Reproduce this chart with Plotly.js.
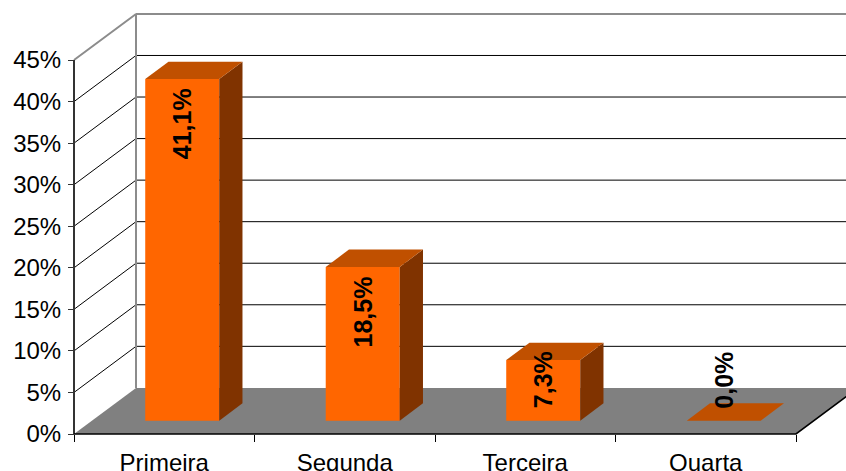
<!DOCTYPE html>
<html>
<head>
<meta charset="utf-8">
<script src="https://cdn.plot.ly/plotly-3.0.1.min.js"></script>
<style>html,body{margin:0;padding:0;background:#fff;}#chart{width:846px;height:471px;}</style>
</head>
<body>
<div id="chart"></div>
<script>
// ---- data ----
const categories = ['Primeira', 'Segunda', 'Terceira', 'Quarta'];
const values = [41.1, 18.5, 7.3, 0.0];
const yTickVals = [0, 5, 10, 15, 20, 25, 30, 35, 40, 45];
const yTickText = ['0%', '5%', '10%', '15%', '20%', '25%', '30%', '35%', '40%', '45%'];

// ---- 3D geometry (oblique projection in axis units) ----
const pxX = 180.5, pxY = 8.31;          // px per category unit / per percent
const Du = 62 / pxX, Dv = 5.55;          // full depth offset of the walls
const f0 = 0.29, f1 = 0.665;             // bar depth (front/back as fraction of floor depth)
const bw = 0.41;                         // bar width in category units
const yMax = yTickVals[yTickVals.length - 1];
const nCat = categories.length;

const FONT = 'Liberation Sans, Arial, sans-serif';
const traces = [];
const noHover = {hoverinfo: 'skip', showlegend: false};

// floor
traces.push(Object.assign({
  type: 'scatter', mode: 'lines', fill: 'toself', fillcolor: '#808080',
  x: [0, nCat, nCat + Du, Du, 0], y: [0, 0, Dv, Dv, 0],
  line: {width: 0}
}, noHover));

// side-wall and back-wall gridlines
const gx = [], gy = [];
yTickVals.forEach(v => {
  if (v === 0 || v === yMax) return;
  gx.push(0, Du, nCat + Du, null);
  gy.push(v, v + Dv, v + Dv, null);
});
traces.push(Object.assign({
  type: 'scatter', mode: 'lines', x: gx, y: gy,
  line: {color: '#000', width: 1}
}, noHover));

// wall border (grey)
traces.push(Object.assign({
  type: 'scatter', mode: 'lines',
  x: [Du, Du, 0, null, Du, nCat + Du], y: [Dv, yMax + Dv, yMax, null, yMax + Dv, yMax + Dv],
  line: {color: '#8c8c8c', width: 2}
}, noHover));

// front vertical axis line
traces.push(Object.assign({
  type: 'scatter', mode: 'lines', x: [0, 0], y: [0, yMax],
  line: {color: '#333', width: 2}
}, noHover));

// front horizontal axis line + floor right edge
traces.push(Object.assign({
  type: 'scatter', mode: 'lines', x: [0, nCat, nCat + Du], y: [0, 0, Dv],
  line: {color: '#000', width: 1.6}
}, noHover));

// bars: front, top and side faces
const centers = categories.map((c, i) => i + 0.5);
const dx = (f1 - f0) * Du, dy = (f1 - f0) * Dv;
values.forEach((v, i) => {
  const xl = centers[i] - bw / 2 + f0 * Du, xr = centers[i] + bw / 2 + f0 * Du;
  const yb = f0 * Dv, yt = v + f0 * Dv;
  if (v > 0) {
    traces.push(Object.assign({
      type: 'scatter', mode: 'lines', fill: 'toself', fillcolor: '#FF6600',
      x: [xl, xr, xr, xl, xl], y: [yb, yb, yt, yt, yb],
      line: {width: 0}
    }, noHover));
    traces.push(Object.assign({
      type: 'scatter', mode: 'lines', fill: 'toself', fillcolor: '#803300',
      x: [xr, xr, xr + dx, xr + dx, xr], y: [yb, yt, yt + dy, yb + dy, yb],
      line: {width: 0}
    }, noHover));
  }
  traces.push(Object.assign({
    type: 'scatter', mode: 'lines', fill: 'toself', fillcolor: '#C05000',
    x: [xl, xr, xr + dx, xl + dx, xl], y: [yt, yt, yt + dy, yt + dy, yt],
    line: {width: 0}
  }, noHover));
});

// data labels
const annotations = values.map((v, i) => ({
  x: centers[i] + f0 * Du,
  y: Math.max(v - 5.4, 4.9) + f0 * Dv,
  text: '<b>' + v.toFixed(1).replace('.', ',') + '%</b>',
  textangle: -90, showarrow: false,
  font: {family: FONT, size: 25, color: '#000'}
}));

const W = 846, H = 471, L = 64, B = 27;
const plotW = W - L, plotH = H - B;
const layout = {
  width: W, height: H,
  margin: {l: L, r: 0, t: 0, b: B, pad: 0},
  paper_bgcolor: '#fff', plot_bgcolor: 'rgba(0,0,0,0)',
  showlegend: false,
  font: {family: FONT, size: 24, color: '#000'},
  xaxis: {
    range: [-10 / pxX, (plotW - 10) / pxX],
    anchor: 'free', position: 10 / plotH,
    tickmode: 'array', tickvals: centers, ticktext: categories,
    ticks: '', ticklabelstandoff: 12,
    showgrid: false, zeroline: false, showline: false, fixedrange: true,
    tickfont: {family: FONT, size: 24, color: '#000'},
    minor: {tickmode: 'array', tickvals: categories.map((c, i) => i).concat([nCat]),
            ticks: 'outside', ticklen: 7, tickwidth: 1, tickcolor: '#000', showgrid: false}
  },
  yaxis: {
    range: [-10 / pxY, plotH / pxY - 10 / pxY],
    anchor: 'free', position: 10 / plotW,
    tickmode: 'array', tickvals: yTickVals, ticktext: yTickText,
    ticks: 'outside', ticklen: 6, tickwidth: 1, tickcolor: '#333', ticklabelstandoff: 2,
    showgrid: false, zeroline: false, showline: false, fixedrange: true,
    tickfont: {family: FONT, size: 24, color: '#000'}
  },
  annotations: annotations
};

Plotly.newPlot('chart', traces, layout, {displayModeBar: false, staticPlot: true});
</script>
</body>
</html>
